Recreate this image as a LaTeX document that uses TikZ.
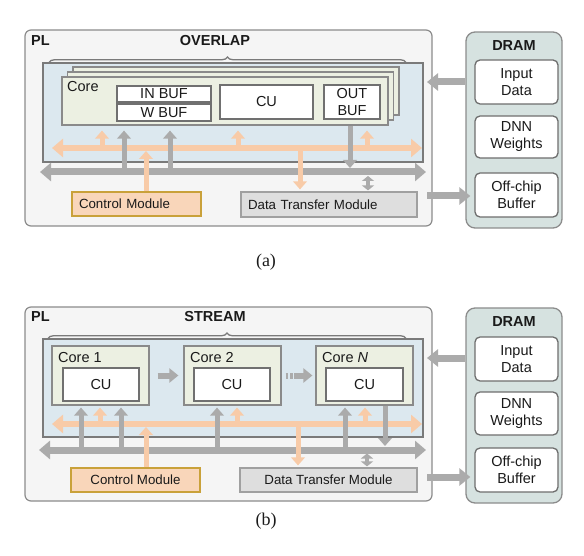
\documentclass[tikz,border=0pt]{standalone}
\usepackage{fontspec}
\setmainfont{Liberation Sans}
\newfontfamily\capfont{Liberation Serif}
\usetikzlibrary{arrows.meta,decorations.pathreplacing}
\definecolor{plfill}{HTML}{F5F5F5}
\definecolor{plline}{HTML}{8C8C8C}
\definecolor{bluefill}{HTML}{DCE8EF}
\definecolor{blueline}{HTML}{7A7A7A}
\definecolor{corefill}{HTML}{ECF0E2}
\definecolor{coreline}{HTML}{8A8A8A}
\definecolor{wline}{HTML}{707070}
\definecolor{arrgray}{HTML}{ABABAB}
\definecolor{arrorange}{HTML}{F8CBA8}
\definecolor{cmfill}{HTML}{F9D6BA}
\definecolor{cmline}{HTML}{C9A13A}
\definecolor{dtmfill}{HTML}{DEDEDE}
\definecolor{dtmline}{HTML}{A0A0A0}
\definecolor{dramfill}{HTML}{D6E2E0}
\definecolor{dramline}{HTML}{8C8C8C}
\definecolor{dline}{HTML}{6E6E6E}
\definecolor{txt}{HTML}{1A1A1A}
\newcommand\txtM{\fontsize{14.5pt}{17pt}\selectfont}
\newcommand\txtS{\fontsize{13.3pt}{15pt}\selectfont}
\begin{document}
\begin{tikzpicture}[x=1pt,y=-1pt,
  every node/.style={text=txt},
  plbox/.style={draw=plline, fill=plfill, line width=1.2pt, rounded corners=6pt},
  bluebox/.style={draw=blueline, fill=bluefill, line width=1.3pt},
  corebox/.style={draw=coreline, fill=corefill, line width=1.2pt},
  wbox/.style={draw=wline, fill=white, line width=1.2pt, font=\txtM, inner sep=0pt, align=center},
  cmbox/.style={draw=cmline, fill=cmfill, line width=1.3pt, font=\txtS},
  dtmbox/.style={draw=dtmline, fill=dtmfill, line width=1.2pt, font=\txtS},
  drambox/.style={draw=dramline, fill=dramfill, line width=1.3pt, rounded corners=9pt},
  dbox/.style={draw=dline, fill=white, line width=1.3pt, rounded corners=5pt, font=\txtM, align=center, inner sep=0pt, minimum width=83pt},
  title/.style={font=\txtM\bfseries},
  lbl/.style={font=\txtM, anchor=base west, inner sep=0pt},
  bracestyle/.style={decorate, decoration={brace, amplitude=5.5pt}, draw=blueline, line width=1.3pt},
  orbus/.style={draw=arrorange, line width=6pt, {Triangle[width=18pt,length=11pt]}-{Triangle[width=18pt,length=11pt]}},
  graybus/.style={draw=arrgray, line width=7pt, {Triangle[width=18pt,length=11pt]}-{Triangle[width=18pt,length=11pt]}},
  grayarr/.style={draw=arrgray, line width=5pt, -{Triangle[width=13.5pt,length=8pt]}},
  orarr/.style={draw=arrorange, line width=5pt, -{Triangle[width=13.5pt,length=8pt]}},
  gdbl/.style={draw=arrgray, line width=4.5pt, {Triangle[width=12pt,length=5pt]}-{Triangle[width=12pt,length=5pt]}},
  dramarr/.style={draw=arrgray, line width=7pt, -{Triangle[width=17pt,length=11pt]}},
  corearr/.style={draw=arrgray, line width=6pt, -{Triangle[width=14pt,length=9pt]}},
  captext/.style={font=\capfont\fontsize{18pt}{20pt}\selectfont}
]
\useasboundingbox (0,0) rectangle (584,556);

% ===================== (a) =====================
\node[plbox, minimum width=407pt, minimum height=196pt] (plA) at (228.5,128) {};
\node[title, anchor=west, inner sep=0pt] (plAl) at (31,41) {PL};
\node[title] (ovl) at (215,41) {OVERLAP};
\node[bluebox, minimum width=380pt, minimum height=99pt] (blueA) at (233,112.5) {};
\draw[bracestyle] (49,62.5) -- (406,62.5);
\node[corebox, minimum width=326pt, minimum height=48pt] (coreA3) at (236,91) {};
\node[corebox, minimum width=326pt, minimum height=48pt] (coreA2) at (230.5,96) {};
\node[corebox, minimum width=326pt, minimum height=48pt] (coreA1) at (225,101) {};
\node[lbl] (coreAl) at (67,92) {Core};
\node[wbox, minimum width=94pt, minimum height=16pt] (inbuf) at (164,94) {IN BUF};
\node[wbox, minimum width=94pt, minimum height=17pt] (wbuf) at (164,112.5) {W BUF};
\node[wbox, minimum width=93pt, minimum height=34pt] (cuA) at (266.5,102) {CU};
\node[wbox, minimum width=56pt, minimum height=34pt] (outbuf) at (352,102) {OUT\\BUF};

\coordinate (obAL) at (52,148);
\coordinate (obAR) at (422,148);
\coordinate (gbAL) at (40,172);
\coordinate (gbAR) at (426,172);

\node[cmbox, minimum width=129pt, minimum height=24pt, text width=115pt, inner xsep=7pt, align=left] (cmA) at (136.5,204) {Control Module};
\node[dtmbox, minimum width=176pt, minimum height=25pt, text width=162pt, inner xsep=7pt, align=left] (dtmA) at (329,204.5) {Data Transfer Module};

\draw[orbus] (obAL) -- (obAR);
\draw[graybus] (gbAL) -- (gbAR);

\coordinate (ga1) at (124,172);
\coordinate (ga2) at (170,172);
\coordinate (gad) at (350,172);
\coordinate (oa1) at (102,148);
\coordinate (oa2) at (238,148);
\coordinate (oa3) at (367,148);
\coordinate (oac) at (146,148);
\coordinate (oad) at (300,148);
\coordinate (gadd) at (368,176);

\draw[grayarr, shorten >=5pt] (ga1) -- (ga1 |- coreA1.south);
\draw[grayarr, shorten >=5pt] (ga2) -- (ga2 |- coreA1.south);
\draw[grayarr, shorten >=4pt] (gad |- coreA1.south) -- (gad);
\draw[orarr, shorten >=5pt] (oa1) -- (oa1 |- coreA1.south);
\draw[orarr, shorten >=5pt] (oa2) -- (oa2 |- coreA1.south);
\draw[orarr, shorten >=5pt] (oa3) -- (oa3 |- coreA1.south);
\draw[orarr, shorten >=3pt] (oac |- cmA.north) -- (oac);
\draw[orarr, shorten >=2pt] (oad) -- (oad |- dtmA.north);
\draw[gdbl, shorten >=1pt] (gadd) -- (gadd |- dtmA.north);

\node[drambox, minimum width=96pt, minimum height=196pt] (dramA) at (514,130) {};
\node[title] (dramAl) at (514,46) {DRAM};
\node[dbox, minimum height=44pt] (inA) at (516.5,82) {Input\\Data};
\node[dbox, minimum height=42pt] (dnnA) at (516.5,137) {DNN\\Weights};
\node[dbox, minimum height=44pt] (offA) at (516.5,195) {Off-chip\\Buffer};
\coordinate (inTipA) at (427,82);
\coordinate (outStA) at (427,196);
\draw[dramarr] (dramA.west |- inA) -- (inTipA);
\draw[dramarr, shorten >=4pt] (outStA) -- (outStA -| offA.west);

\node[captext] (capA) at (266,262) {(a)};

% ===================== (b) =====================
\node[plbox, minimum width=407pt, minimum height=194pt] (plB) at (228.5,404) {};
\node[title, anchor=west, inner sep=0pt] (plBl) at (31,317) {PL};
\node[title] (strm) at (215,317) {STREAM};
\node[bluebox, minimum width=380pt, minimum height=98pt] (blueB) at (233,388) {};
\draw[bracestyle] (48,338.5) -- (406,338.5);

\node[corebox, minimum width=97pt, minimum height=59pt] (core1) at (100.5,375.5) {};
\node[corebox, minimum width=97pt, minimum height=59pt] (core2) at (232.5,375.5) {};
\node[corebox, minimum width=97pt, minimum height=59pt] (coreN) at (364.5,375.5) {};
\node[lbl] (core1l) at (58,362) {Core 1};
\node[lbl] (core2l) at (190,362) {Core 2};
\node[lbl] (coreNl) at (322,362) {Core \textit{N}};
\node[wbox, minimum width=76pt, minimum height=33pt] (cu1) at (101,384.5) {CU};
\node[wbox, minimum width=76pt, minimum height=33pt] (cu2) at (232,384.5) {CU};
\node[wbox, minimum width=77pt, minimum height=33pt] (cuN) at (364.5,384.5) {CU};

\draw[corearr, shorten <=8pt, shorten >=5pt] (core1) -- (core2);
\draw[corearr, shorten <=4pt, shorten >=3pt, dash pattern=on 2.5pt off 2pt on 2.5pt off 1.5pt on 40pt] (core2) -- (coreN);

\coordinate (obBL) at (52,424);
\coordinate (obBR) at (422,424);
\coordinate (gbBL) at (39,450);
\coordinate (gbBR) at (426,450);

\node[cmbox, minimum width=129pt, minimum height=24pt] (cmB) at (135.5,480) {Control Module};
\node[dtmbox, minimum width=177pt, minimum height=24pt] (dtmB) at (328.5,480) {Data Transfer Module};

\draw[orbus] (obBL) -- (obBR);
\draw[graybus] (gbBL) -- (gbBR);

\coordinate (gb1) at (81,450);
\coordinate (gb2) at (121,450);
\coordinate (gb3) at (217,450);
\coordinate (gb4) at (345,450);
\coordinate (gbd) at (385,450);
\coordinate (ob1) at (100,424);
\coordinate (ob2) at (237,424);
\coordinate (ob3) at (365,424);
\coordinate (obc) at (146,424);
\coordinate (obd) at (298,424);
\coordinate (gbdd) at (367,453.5);

\draw[grayarr, shorten >=2pt] (gb1) -- (gb1 |- core1.south);
\draw[grayarr, shorten >=2pt] (gb2) -- (gb2 |- core1.south);
\draw[grayarr, shorten >=2pt] (gb3) -- (gb3 |- core2.south);
\draw[grayarr, shorten >=2pt] (gb4) -- (gb4 |- coreN.south);
\draw[grayarr, shorten >=4pt] (gbd |- coreN.south) -- (gbd);
\draw[orarr, shorten >=2pt] (ob1) -- (ob1 |- core1.south);
\draw[orarr, shorten >=2pt] (ob2) -- (ob2 |- core2.south);
\draw[orarr, shorten >=2pt] (ob3) -- (ob3 |- coreN.south);
\draw[orarr, shorten >=3pt] (obc |- cmB.north) -- (obc);
\draw[orarr, shorten >=2pt] (obd) -- (obd |- dtmB.north);
\draw[gdbl, shorten >=1pt] (gbdd) -- (gbdd |- dtmB.north);

\node[drambox, minimum width=96pt, minimum height=195pt] (dramB) at (514,405.5) {};
\node[title] (dramBl) at (514,322) {DRAM};
\node[dbox, minimum height=44pt] (inB) at (516.5,359) {Input\\Data};
\node[dbox, minimum height=43pt] (dnnB) at (516.5,413.5) {DNN\\Weights};
\node[dbox, minimum height=44pt] (offB) at (516.5,470) {Off-chip\\Buffer};
\coordinate (inTipB) at (427,358);
\coordinate (outStB) at (427,477);
\draw[dramarr] (dramB.west |- inTipB) -- (inTipB);
\draw[dramarr, shorten >=4pt] (outStB) -- (outStB -| offB.west);

\node[captext] (capB) at (266,521) {(b)};
\end{tikzpicture}
\end{document}
